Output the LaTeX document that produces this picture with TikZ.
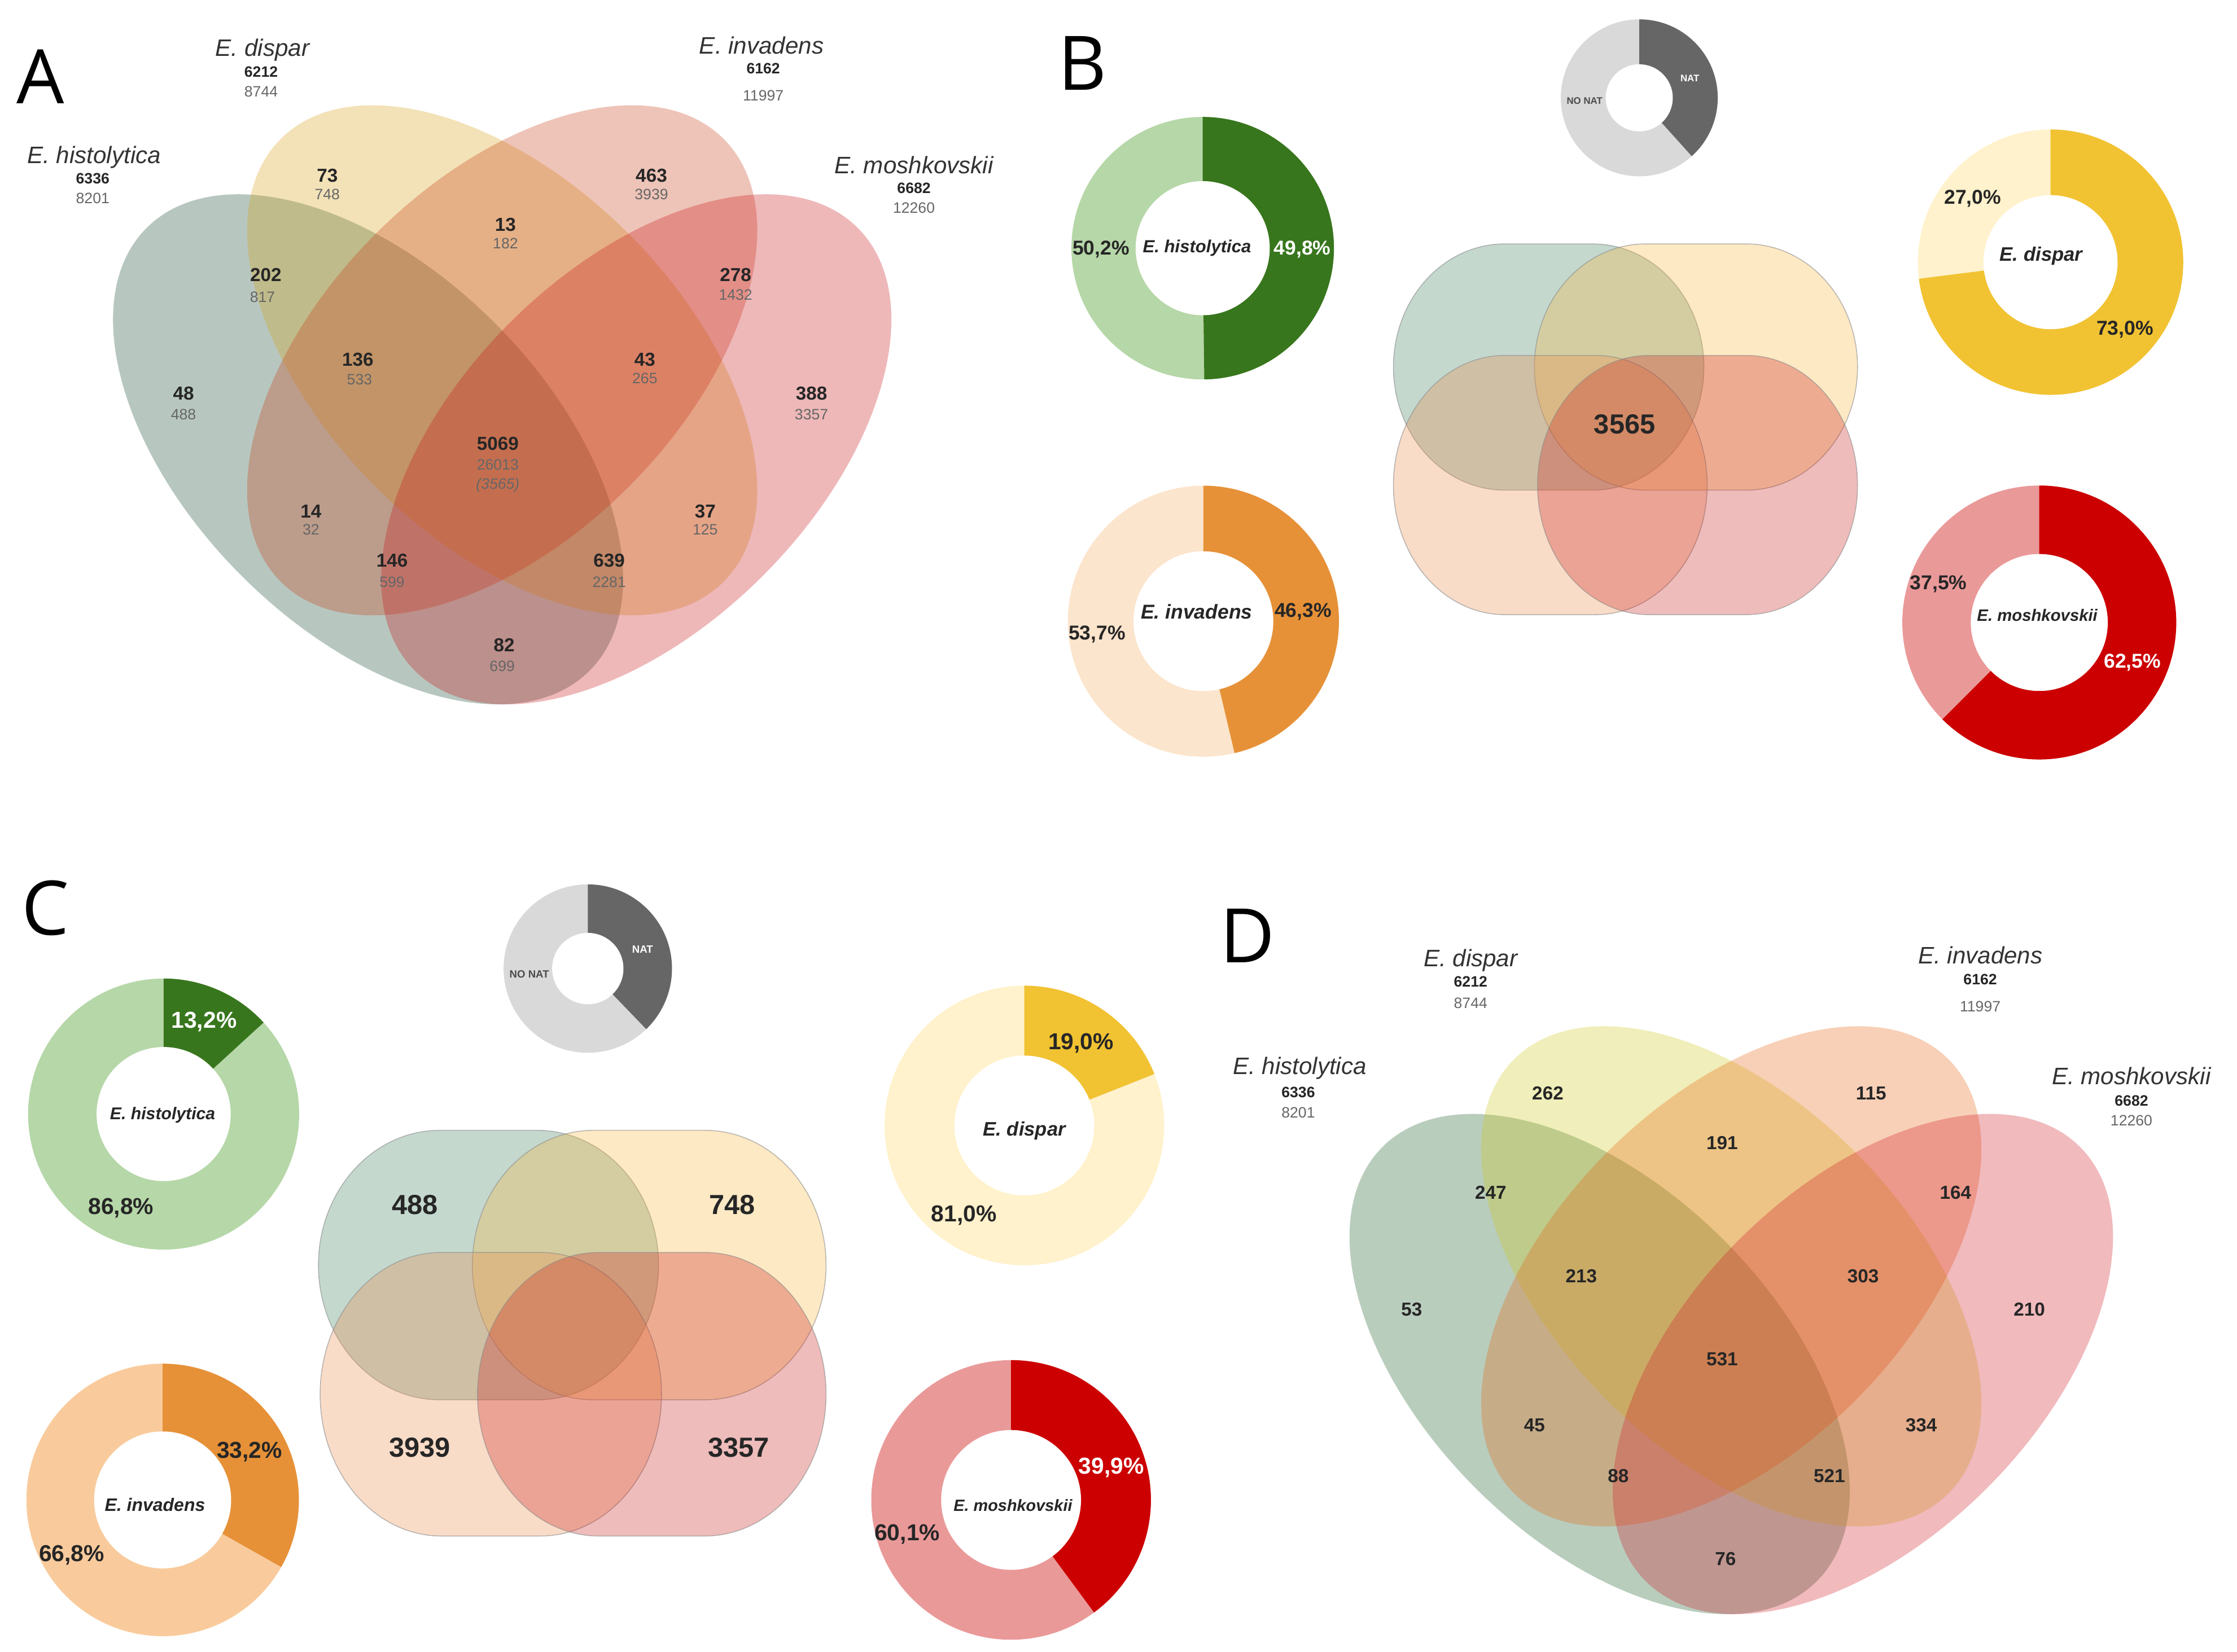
\documentclass[tikz,border=0pt]{standalone}
\usepackage{fontspec}
\setmainfont{Liberation Sans}
\newfontfamily\panelfont{Open Sans}
\usepackage{xcolor}
\usepackage{tikz}
\usetikzlibrary{positioning}

% venn fills (used with opacity)
\definecolor{vhis}{HTML}{12442A}
\definecolor{vdis}{HTML}{D7A014}
\definecolor{vinv}{HTML}{C83C14}
\definecolor{vmos}{HTML}{C81418}
\definecolor{dhis}{HTML}{165826}
\definecolor{ddis}{HTML}{CDC819}
\definecolor{dinv}{HTML}{E6640F}
\definecolor{dmos}{HTML}{D21926}
\definecolor{bteal}{HTML}{3A7D5C}
\definecolor{byel}{HTML}{F8B63A}
\definecolor{bpea}{HTML}{EB8A48}
\definecolor{bpin}{HTML}{C8201C}
% donut colours
\definecolor{hisdark}{HTML}{38761D}
\definecolor{hislight}{HTML}{B6D7A8}
\definecolor{invdark}{HTML}{E69138}
\definecolor{invlight}{HTML}{FCE5CD}
\definecolor{invmid}{HTML}{F9CB9C}
\definecolor{disdark}{HTML}{F1C232}
\definecolor{dislight}{HTML}{FFF2CC}
\definecolor{mosdark}{HTML}{CC0000}
\definecolor{moslight}{HTML}{EA9999}
\definecolor{natdark}{HTML}{666666}
\definecolor{natlight}{HTML}{D9D9D9}

% x, y, R, r, angle (clockwise from top), dark, light
\newcommand\donut[7]{%
  \fill[#7] (#1,#2) circle (#3);
  \fill[#6] (#1,#2) -- ++(90:#3) arc[start angle=90, end angle={90-#5}, radius=#3] -- cycle;
  \fill[white] (#1,#2) circle (#4);
}
% style, x0, y0, x1, y1 (cap radii in \bxr, \byr)
\newcommand\rbox[5]{%
  \path[#1] ({#2+\bxr},#3) -- ({#4-\bxr},#3)
    arc[start angle=-90, end angle=0, x radius=\bxr, y radius=\byr]
    -- (#4,{#5-\byr})
    arc[start angle=0, end angle=90, x radius=\bxr, y radius=\byr]
    -- ({#2+\bxr},#5)
    arc[start angle=90, end angle=180, x radius=\bxr, y radius=\byr]
    -- (#2,{#3+\byr})
    arc[start angle=180, end angle=270, x radius=\bxr, y radius=\byr]
    -- cycle;
}

\begin{document}
\begin{tikzpicture}[
    x=0.2mm, y=0.2mm,
    every node/.style = {inner sep=0pt, text depth=0pt},
    vset/.style = {fill opacity=0.3},
    blob/.style = {fill=#1, fill opacity=0.3, draw=black!45, draw opacity=0.6, line width=0.35pt},
    panel/.style = {font=\panelfont\fontsize{30}{30}\selectfont, text height=21.4pt},
    spname/.style = {font=\itshape\fontsize{9.5}{10}\selectfont, text=black!80, text height=6.8pt},
    sptot/.style = {font=\bfseries\fontsize{6}{7}\selectfont, text=black!85, text height=4.3pt},
    spall/.style = {font=\fontsize{6}{7}\selectfont, text=black!60, text height=4.3pt},
    cnt/.style = {font=\bfseries\fontsize{7.5}{8}\selectfont, text=black!85, text height=5.4pt},
    cntsub/.style = {font=\fontsize{6}{7}\selectfont, text=black!60, text height=4.3pt},
    pct/.style = {font=\bfseries\fontsize{#1}{#1}\selectfont, text=black!85, text height=5.9pt},
    pct/.default = 8,
    dname/.style = {font=\bfseries\itshape\fontsize{#1}{#1}\selectfont, text=black!85, text height=5pt},
    dname/.default = 7,
    natlab/.style = {font=\bfseries\fontsize{#1}{#1}\selectfont, text height=2.8pt},
    bignum/.style = {font=\bfseries\fontsize{11}{12}\selectfont, text=black!85, text height=7.9pt}
  ]
  \useasboundingbox (0,0) rectangle (1568,1158);

  % ---------- A ----------
  \fill[vhis, vset] (258,843) ellipse [x radius=219.5, y radius=125.4, rotate=-45];
  \fill[vdis, vset] (352,905.4) ellipse [x radius=219.5, y radius=125.4, rotate=-45];
  \fill[vinv, vset] (352,905.4) ellipse [x radius=219.5, y radius=125.4, rotate=45];
  \fill[vmos, vset] (446,843) ellipse [x radius=219.5, y radius=125.4, rotate=45];

  \node[panel] (lA) at (28.4,1104) {A};
  \node[spname] (ahisn) at (65.9,1049.4) {E. histolytica};
  \node[sptot]  (ahist) at (65,1033) {6336};
  \node[spall]  (ahisa) at (65,1019.3) {8201};
  \node[spname] (adisn) at (184,1124.4) {E. dispar};
  \node[sptot]  (adist) at (183,1107.7) {6212};
  \node[spall]  (adisa) at (183,1094) {8744};
  \node[spname] (ainvn) at (533.8,1126.2) {E. invadens};
  \node[sptot]  (ainvt) at (535,1110.3) {6162};
  \node[spall]  (ainva) at (535,1091.2) {11997};
  \node[spname] (amosn) at (640.6,1042.3) {E. moshkovskii};
  \node[sptot]  (amost) at (640.6,1026.4) {6682};
  \node[spall]  (amosa) at (640.6,1012.3) {12260};

  \node[cnt] (a73) at (229.4,1035.2) {73};    \node[cntsub] (a748) at (229.4,1022) {748};
  \node[cnt] (a463) at (456.6,1035.2) {463};  \node[cntsub] (a3939) at (456.6,1022) {3939};
  \node[cnt] (a13) at (354.3,1000.8) {13};    \node[cntsub] (a182) at (354.3,987.5) {182};
  \node[cnt] (a202) at (186.3,965.4) {202};   \node[cntsub] (a817) at (184,950) {817};
  \node[cnt] (a278) at (515.6,965.4) {278};   \node[cntsub] (a1432) at (515.6,951.3) {1432};
  \node[cnt] (a136) at (250.8,906.3) {136};   \node[cntsub] (a533) at (252,892.1) {533};
  \node[cnt] (a43) at (452,906.3) {43};       \node[cntsub] (a265) at (452,893) {265};
  \node[cnt] (a48) at (128.6,882.6) {48};     \node[cntsub] (a488) at (128.6,867.6) {488};
  \node[cnt] (a388) at (568.8,882.6) {388};   \node[cntsub] (a3357) at (568.8,867.6) {3357};
  \node[cnt] (a5069) at (348.9,847.2) {5069}; \node[cntsub] (a26013) at (348.9,832.2) {26013};
  \node[cntsub, font=\itshape\fontsize{6}{7}\selectfont] (a3565) at (348.9,819) {(3565)};
  \node[cnt] (a14) at (218,799.6) {14};       \node[cntsub] (a32) at (218,786.7) {32};
  \node[cnt] (a37) at (494.3,799.6) {37};     \node[cntsub] (a125) at (494.3,786.7) {125};
  \node[cnt] (a146) at (274.8,765.1) {146};   \node[cntsub] (a599) at (274.8,750.1) {599};
  \node[cnt] (a639) at (427,765.1) {639};     \node[cntsub] (a2281) at (427,750.1) {2281};
  \node[cnt] (a82) at (353.4,706) {82};       \node[cntsub] (a699) at (352,691) {699};

  % ---------- B ----------
  \node[panel] (lB) at (758.6,1113.8) {B};
  \donut{1149}{1089.4}{55}{23.5}{138}{natdark}{natlight}
  \node[natlab=3.8, text=white] (bnat) at (1184.5,1103.3) {NAT};
  \node[natlab=3.8, text=black!70] (bnon) at (1110.7,1087.4) {NO NAT};

  \donut{843}{984}{92}{47}{179.3}{hisdark}{hislight}
  \donut{843.5}{722.5}{95}{49}{166.7}{invdark}{invlight}
  \donut{1437.3}{974.2}{93}{47}{262.8}{disdark}{dislight}
  \donut{1429.4}{721.6}{96}{48}{225}{mosdark}{moslight}

  \node[pct] (b502) at (771.7,984.7) {50,2\%};
  \node[pct, text=white] (b498) at (912.8,984.6) {49,8\%};
  \node[dname] (bhis) at (839,985.2) {E. histolytica};
  \node[pct] (b537) at (769,714.5) {53,7\%};
  \node[pct] (b463) at (913.4,730.5) {46,3\%};
  \node[dname=8] (binv) at (838.7,728.6) {E. invadens};
  \node[pct] (b270) at (1382.7,1020.2) {27,0\%};
  \node[pct] (b730) at (1489.4,928.3) {73,0\%};
  \node[dname=7.8] (bdis) at (1430.7,979.5) {E. dispar};
  \node[pct] (b375) at (1358.7,749.8) {37,5\%};
  \node[pct, text=white] (b625) at (1494.7,695.1) {62,5\%};
  \node[dname=6.6] (bmos) at (1428,726.9) {E. moshkovskii};

  \def\bxr{78}\def\byr{86.3}
  \rbox{blob=bteal}{976.7}{814.4}{1194.3}{987}
  \rbox{blob=byel}{1075.5}{814.4}{1302}{987}
  \def\byr{90.8}
  \rbox{blob=bpea}{976.7}{727.1}{1196.6}{908.8}
  \rbox{blob=bpin}{1077.7}{727.1}{1302}{908.8}
  \node[bignum] (b3565) at (1138.8,860.7) {3565};

  % ---------- C ----------
  \node[panel] (lC) at (31.8,521.2) {C};
  \donut{412}{479}{59}{25}{136}{natdark}{natlight}
  \node[natlab=4.2, text=white] (cnat) at (450.4,492.4) {NAT};
  \node[natlab=4.2, text=black!70] (cnon) at (371,475) {NO NAT};

  \donut{114.7}{377}{95}{47}{47.5}{hisdark}{hislight}
  \donut{114}{106.5}{95.5}{48}{119.5}{invdark}{invmid}
  \donut{718}{369}{98}{49}{68.4}{disdark}{dislight}
  \donut{708.7}{106.5}{98}{49}{143.6}{mosdark}{moslight}

  \node[pct=9.2, text=white] (c132) at (143,442.5) {13,2\%};
  \node[pct=9.2] (c868) at (84.8,312) {86,8\%};
  \node[dname=6.8] (chis) at (114,377.6) {E. histolytica};
  \node[pct=9.2] (c332) at (174.9,140.8) {33,2\%};
  \node[pct=9.2] (c668) at (50.3,68.7) {66,8\%};
  \node[dname=7.2] (cinv) at (108.6,103) {E. invadens};
  \node[pct=9.2] (c190) at (757.7,427.5) {19,0\%};
  \node[pct=9.2] (c810) at (675.7,306.6) {81,0\%};
  \node[dname=7.8] (cdis) at (718,366) {E. dispar};
  \node[pct=9.2, text=white] (c399) at (779,130) {39,9\%};
  \node[pct=9.2] (c601) at (635.9,83.2) {60,1\%};
  \node[dname=6.5] (cmos) at (710,103) {E. moshkovskii};

  \def\bxr{85}\def\byr{94.5}
  \rbox{blob=bteal}{223.2}{176.7}{461.6}{365.6}
  \rbox{blob=byel}{331.1}{176.7}{579}{365.6}
  \def\byr{99.4}
  \rbox{blob=bpea}{224.4}{81.2}{463.7}{280}
  \rbox{blob=bpin}{334.7}{81.2}{579}{280}
  \node[bignum] (c488) at (290.8,313.5) {488};
  \node[bignum] (c748) at (513.1,313.5) {748};
  \node[bignum] (c3939) at (294.3,143.6) {3939};
  \node[bignum] (c3357) at (517.8,143.6) {3357};

  % ---------- D ----------
  \fill[dhis, vset] (1121.25,201.75) ellipse [x radius=215.25, y radius=123, rotate=-45];
  \fill[ddis, vset] (1213.5,263.25) ellipse [x radius=215.25, y radius=123, rotate=-45];
  \fill[dinv, vset] (1213.5,263.25) ellipse [x radius=215.25, y radius=123, rotate=45];
  \fill[dmos, vset] (1305.75,201.75) ellipse [x radius=215.25, y radius=123, rotate=45];

  \node[panel] (lD) at (874.4,502) {D};
  \node[spname] (dhisn) at (911,410.7) {E. histolytica};
  \node[sptot]  (dhist) at (910,392.6) {6336};
  \node[spall]  (dhisa) at (910,378.3) {8201};
  \node[spname] (ddisn) at (1030.8,486.5) {E. dispar};
  \node[sptot]  (ddist) at (1030.8,469.8) {6212};
  \node[spall]  (ddisa) at (1030.8,454.9) {8744};
  \node[spname] (dinvn) at (1388.1,488.3) {E. invadens};
  \node[sptot]  (dinvt) at (1388,471.6) {6162};
  \node[spall]  (dinva) at (1388,452.5) {11997};
  \node[spname] (dmosn) at (1493.9,403.7) {E. moshkovskii};
  \node[sptot]  (dmost) at (1494,386.4) {6682};
  \node[spall]  (dmosa) at (1494,372.5) {12260};

  \node[cnt] (d262) at (1084.9,391.6) {262};
  \node[cnt] (d115) at (1311.5,391.6) {115};
  \node[cnt] (d191) at (1207.1,356.8) {191};
  \node[cnt] (d247) at (1044.9,322) {247};
  \node[cnt] (d164) at (1370.7,322) {164};
  \node[cnt] (d53) at (989.5,240.3) {53};
  \node[cnt] (d213) at (1108.4,263.6) {213};
  \node[cnt] (d303) at (1305.9,263.6) {303};
  \node[cnt] (d210) at (1422.4,240.3) {210};
  \node[cnt] (d531) at (1207.1,205.5) {531};
  \node[cnt] (d45) at (1075.5,159.2) {45};
  \node[cnt] (d334) at (1346.7,159.2) {334};
  \node[cnt] (d88) at (1134.3,123.7) {88};
  \node[cnt] (d521) at (1282.3,123.7) {521};
  \node[cnt] (d76) at (1209.5,65.3) {76};
\end{tikzpicture}
\end{document}
